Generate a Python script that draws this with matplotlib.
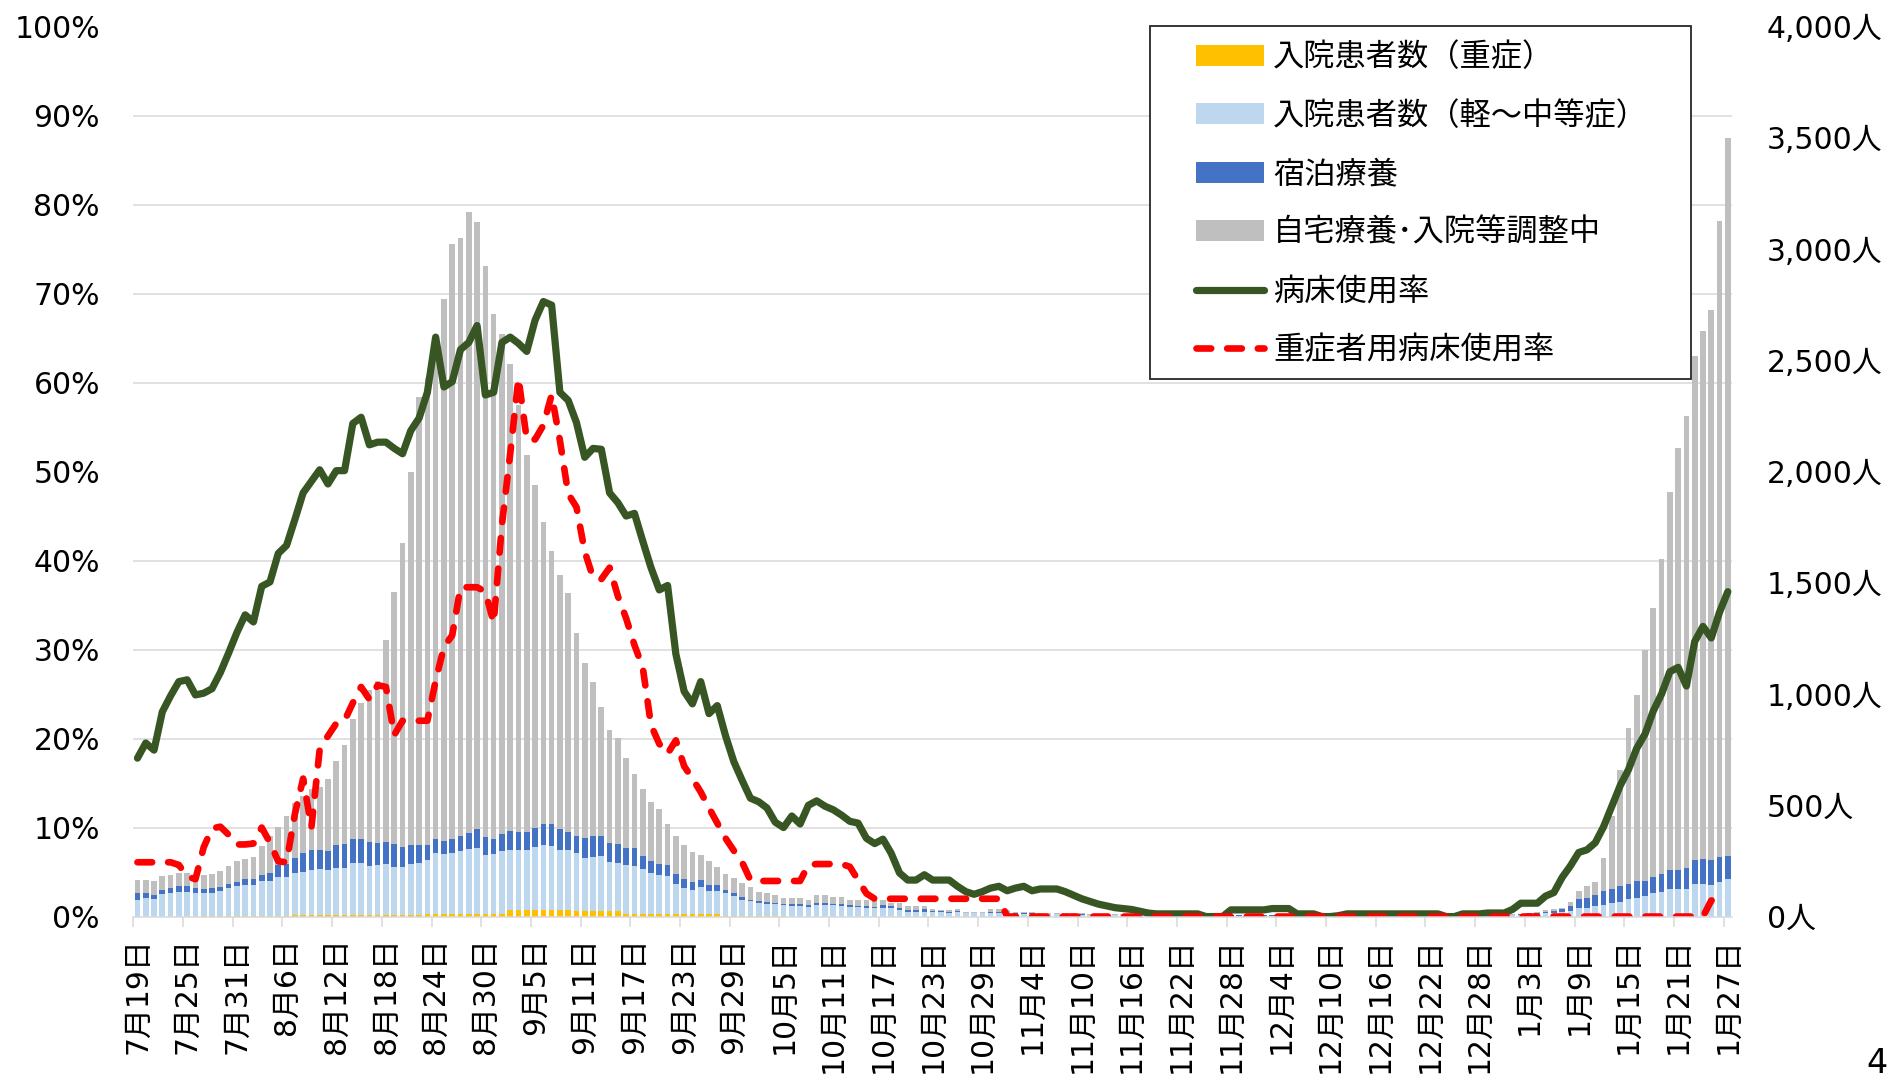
import matplotlib.pyplot as plt
import numpy as np
from matplotlib.lines import Line2D
from matplotlib.patches import Patch, Rectangle
from matplotlib.ticker import MultipleLocator

plt.rcParams['font.family'] = ['DejaVu Sans', 'Noto Sans CJK JP']

# labels under the axis, one every 6 days (7/19 .. 1/27, 193 days in all)
date_labels = ['7月19日', '7月25日', '7月31日', '8月6日', '8月12日', '8月18日', '8月24日', '8月30日',
               '9月5日', '9月11日', '9月17日', '9月23日', '9月29日', '10月5日', '10月11日', '10月17日',
               '10月23日', '10月29日', '11月4日', '11月10日', '11月16日', '11月22日', '11月28日', '12月4日',
               '12月10日', '12月16日', '12月22日', '12月28日', '1月3日', '1月9日', '1月15日', '1月21日',
               '1月27日']

series_names = ['入院患者数（重症）', '入院患者数（軽～中等症）', '宿泊療養', '自宅療養･入院等調整中',
                '病床使用率', '重症者用病床使用率']

# people per day (right axis)
severe = [0, 0, 0, 0, 0, 0, 0, 0, 3, 3,
          3, 3, 3, 3, 3, 3, 3, 3, 3, 7,
          7, 7, 7, 7, 7, 7, 7, 7, 7, 7,
          7, 7, 7, 7, 7, 12, 12, 12, 12, 12,
          12, 12, 12, 12, 12, 28, 28, 28, 28, 28,
          28, 28, 28, 24, 24, 24, 24, 24, 24, 12,
          12, 12, 12, 12, 12, 12, 12, 12, 12, 12,
          12, 4, 4, 4, 4, 4, 4, 4, 4, 0,
          0, 0, 0, 0, 0, 0, 0, 0, 0, 0,
          0, 0, 0, 0, 0, 0, 0, 0, 0, 0,
          0, 0, 0, 0, 0, 0, 0, 0, 0, 0,
          0, 0, 0, 0, 0, 0, 0, 0, 0, 0,
          0, 0, 0, 0, 0, 0, 0, 0, 0, 0,
          0, 0, 0, 0, 0, 0, 0, 0, 0, 0,
          0, 0, 0, 0, 0, 0, 0, 0, 0, 0,
          0, 0, 0, 0, 0, 0, 0, 0, 0, 0,
          0, 0, 0, 0, 0, 0, 0, 0, 0, 0,
          0, 0, 0, 0, 0, 0, 0, 0, 0, 0,
          0, 0, 0, 0, 0, 0, 0, 0, 0, 0,
          0, 0, 0]

mild = [76, 82, 78, 100, 104, 112, 112, 108, 105, 105,
        113, 125, 133, 141, 141, 157, 157, 173, 177, 189,
        193, 201, 205, 201, 209, 209, 233, 233, 221, 225,
        229, 217, 217, 229, 233, 244, 272, 268, 272, 284,
        292, 296, 264, 268, 284, 272, 272, 272, 284, 292,
        288, 272, 272, 260, 240, 242, 248, 222, 218, 220,
        216, 202, 186, 176, 170, 136, 116, 108, 120, 104,
        104, 100, 88, 72, 64, 56, 52, 52, 46, 48,
        48, 44, 52, 52, 52, 48, 44, 42, 40, 38,
        40, 38, 28, 22, 22, 22, 20, 20, 18, 20,
        16, 16, 14, 16, 16, 14, 12, 12, 12, 10,
        10, 10, 8, 8, 8, 7, 7, 6, 6, 6,
        5, 5, 5, 4, 4, 4, 4, 5, 4, 4,
        3, 3, 4, 4, 4, 4, 4, 4, 4, 3,
        3, 3, 3, 3, 3, 4, 4, 4, 3, 3,
        3, 3, 3, 3, 3, 3, 3, 3, 3, 3,
        3, 3, 4, 4, 5, 5, 6, 8, 10, 12,
        14, 16, 20, 26, 40, 40, 48, 52, 60, 64,
        80, 84, 92, 104, 112, 124, 124, 124, 148, 148,
        140, 156, 168]

hotel = [32, 26, 18, 20, 24, 24, 24, 20, 16, 20,
         16, 20, 20, 24, 24, 28, 36, 56, 56, 68,
         84, 92, 88, 88, 104, 108, 108, 108, 108, 100,
         100, 104, 88, 84, 80, 64, 64, 60, 64, 68,
         72, 84, 80, 68, 76, 84, 80, 80, 84, 96,
         100, 92, 80, 80, 90, 98, 92, 86, 82, 74,
         78, 60, 50, 50, 50, 44, 40, 36, 32, 24,
         24, 16, 12, 12, 8, 8, 8, 4, 6, 8,
         8, 8, 8, 8, 4, 8, 8, 6, 8, 6,
         12, 10, 10, 8, 8, 10, 6, 4, 4, 4,
         2, 2, 2, 4, 4, 4, 4, 4, 2, 2,
         2, 2, 2, 2, 2, 2, 1, 1, 1, 1,
         1, 1, 1, 1, 1, 1, 1, 1, 1, 1,
         1, 1, 1, 1, 1, 1, 1, 1, 1, 1,
         1, 1, 1, 1, 1, 1, 1, 1, 1, 1,
         1, 1, 1, 1, 1, 1, 1, 1, 1, 1,
         1, 1, 1, 1, 1, 1, 2, 2, 4, 4,
         6, 8, 14, 22, 40, 44, 48, 64, 64, 72,
         68, 76, 68, 72, 80, 84, 84, 96, 108, 112,
         116, 112, 104]

home = [56, 56, 64, 64, 60, 60, 60, 60, 64, 64,
        72, 80, 92, 92, 100, 128, 168, 172, 216, 248,
        260, 272, 284, 324, 380, 448, 540, 612, 680, 728,
        908, 1132, 1368, 1676, 2016, 2100, 2252, 2436, 2676, 2684,
        2792, 2728, 2568, 2360, 2244, 2100, 1920, 1696, 1544, 1356,
        1228, 1144, 1076, 912, 786, 692, 576, 508, 480, 406,
        334, 298, 268, 244, 186, 168, 152, 136, 112, 108,
        84, 72, 68, 64, 56, 44, 44, 36, 28, 28,
        28, 24, 36, 36, 32, 32, 24, 28, 28, 32,
        24, 12, 22, 18, 18, 16, 6, 6, 6, 8,
        4, 4, 4, 12, 12, 10, 6, 6, 8, 6,
        6, 6, 4, 4, 4, 4, 3, 3, 3, 3,
        2, 2, 2, 2, 2, 2, 2, 2, 2, 2,
        2, 2, 2, 2, 2, 2, 2, 2, 2, 2,
        2, 2, 2, 2, 2, 2, 2, 2, 2, 2,
        2, 2, 2, 2, 2, 2, 2, 2, 2, 2,
        2, 2, 2, 2, 2, 2, 2, 2, 4, 6,
        8, 10, 6, 16, 36, 52, 60, 148, 328, 524,
        700, 836, 1040, 1212, 1416, 1700, 1896, 2028, 2264, 2372,
        2468, 2860, 3228]

# percentages (left axis)
bed_rate = [17.8, 19.5, 18.7, 23.0, 24.8, 26.4, 26.6, 24.9, 25.1, 25.6,
            27.4, 29.6, 31.9, 33.9, 33.1, 37.1, 37.6, 40.8, 41.7, 44.6,
            47.6, 48.9, 50.2, 48.6, 50.1, 50.1, 55.4, 56.1, 53.0, 53.3,
            53.3, 52.6, 52.0, 54.6, 56.0, 58.9, 65.1, 59.5, 60.1, 63.7,
            64.5, 66.4, 58.6, 58.9, 64.5, 65.1, 64.4, 63.5, 67.0, 69.1,
            68.7, 58.9, 58.0, 55.5, 51.6, 52.6, 52.5, 47.6, 46.5, 45.0,
            45.3, 42.2, 39.2, 36.7, 37.2, 29.5, 25.3, 23.9, 26.4, 22.8,
            23.7, 20.3, 17.4, 15.3, 13.3, 12.9, 12.2, 10.6, 10.0, 11.3,
            10.4, 12.5, 13.0, 12.4, 12.0, 11.4, 10.7, 10.5, 8.8, 8.2,
            8.7, 7.1, 4.9, 4.1, 4.1, 4.7, 4.1, 4.1, 4.1, 3.4,
            2.8, 2.5, 2.8, 3.2, 3.4, 2.9, 3.2, 3.4, 2.9, 3.1,
            3.1, 3.1, 2.8, 2.4, 2.0, 1.7, 1.4, 1.2, 1.0, 0.9,
            0.8, 0.6, 0.4, 0.3, 0.3, 0.3, 0.3, 0.3, 0.3, 0.0,
            0.0, 0.0, 0.75, 0.75, 0.75, 0.75, 0.75, 0.9, 0.9, 0.9,
            0.3, 0.3, 0.3, 0.0, 0.0, 0.1, 0.3, 0.3, 0.3, 0.3,
            0.3, 0.3, 0.3, 0.3, 0.3, 0.3, 0.3, 0.3, 0.0, 0.0,
            0.3, 0.3, 0.3, 0.4, 0.4, 0.4, 0.8, 1.5, 1.5, 1.5,
            2.3, 2.7, 4.4, 5.7, 7.2, 7.5, 8.3, 10.1, 12.4, 14.7,
            16.5, 18.9, 20.5, 23.1, 25.0, 27.5, 28.0, 25.9, 30.9, 32.6,
            31.3, 34.2, 36.5]

severe_bed_rate = [6.1, 6.1, 6.1, 6.1, 6.1, 5.8, 4.5, 4.2, 7.8, 9.9,
                   10.1, 9.2, 8.1, 8.1, 8.2, 10.0, 8.3, 6.2, 6.1, 11.5,
                   15.5, 10.0, 18.8, 20.3, 21.7, 22.0, 24.0, 25.8, 24.4, 26.0,
                   25.8, 20.4, 22.0, 22.0, 22.0, 22.0, 26.5, 30.3, 31.6, 37.0,
                   37.0, 37.0, 36.5, 33.0, 44.0, 52.0, 60.5, 53.6, 53.6, 55.2,
                   58.6, 53.5, 47.5, 46.0, 41.0, 38.1, 37.9, 39.2, 36.0, 33.5,
                   30.5, 28.0, 21.5, 19.4, 18.3, 19.8, 16.9, 15.5, 14.0, 12.2,
                   10.5, 8.8, 7.4, 6.1, 4.1, 4.0, 4.0, 4.0, 4.0, 4.0,
                   4.0, 5.8, 5.9, 5.9, 5.9, 5.9, 5.6, 4.1, 2.6, 2.0,
                   2.0, 2.0, 2.0, 2.0, 2.0, 2.0, 2.0, 2.0, 2.0, 2.0,
                   2.0, 2.0, 2.0, 2.0, 2.0, 0, 0, 0, 0, 0,
                   0, 0, 0, 0, 0, 0, 0, 0, 0, 0,
                   0, 0, 0, 0, 0, 0, 0, 0, 0, 0,
                   0, 0, 0, 0, 0, 0, 0, 0, 0, 0,
                   0, 0, 0, 0, 0, 0, 0, 0, 0, 0,
                   0, 0, 0, 0, 0, 0, 0, 0, 0, 0,
                   0, 0, 0, 0, 0, 0, 0, 0, 0, 0,
                   0, 0, 0, 0, 0, 0, 0, 0, 0, 0,
                   0, 0, 0, 0, 0, 0, 0, 0, 0, 0,
                   1.8, 2.1, np.nan]

col_severe = '#FFC000'
col_mild = '#BDD7EE'
col_hotel = '#4472C4'
col_home = '#BFBFBF'
col_bed = '#375623'
col_sev_bed = '#FF0000'
grid_col = '#D9D9D9'
red_dash = (2.2, 2.4)

days = np.arange(len(home))

fig = plt.figure(figsize=(18.91, 10.82), dpi=100)
ax = fig.add_axes([0.0705, 0.1529, 0.8454, 0.8226])
ax_bar = ax.twinx()
# lines must sit above the bars
ax.set_zorder(ax_bar.get_zorder() + 1)
ax.patch.set_visible(False)

# stacked bars (people)
bw = 0.68
b1 = np.array(severe)
b2 = b1 + np.array(mild)
b3 = b2 + np.array(hotel)
ax_bar.bar(days, severe, bw, color=col_severe, linewidth=0)
ax_bar.bar(days, mild, bw, bottom=b1, color=col_mild, linewidth=0)
ax_bar.bar(days, hotel, bw, bottom=b2, color=col_hotel, linewidth=0)
ax_bar.bar(days, home, bw, bottom=b3, color=col_home, linewidth=0)

ax_bar.set_ylim(0, 4000)
ax_bar.set_yticks(range(0, 4001, 500))
ax_bar.set_yticklabels([f'{v:,}人' for v in range(0, 4001, 500)], fontsize=21.5)
ax_bar.yaxis.set_minor_locator(MultipleLocator(400))
ax_bar.tick_params(axis='y', which='both', length=0, pad=25)
ax_bar.grid(axis='y', which='minor', color=grid_col, linewidth=1.1)
ax_bar.set_axisbelow(True)

# rate lines (percent)
ax.plot(days, bed_rate, color=col_bed, linewidth=5.2, solid_joinstyle='round', solid_capstyle='round')
ax.plot(days, severe_bed_rate, color=col_sev_bed, linewidth=4.8, dashes=red_dash,
        dash_capstyle='round', dash_joinstyle='round')

ax.set_ylim(0, 100)
ax.set_yticks(range(0, 101, 10))
ax.set_yticklabels([f'{v}%' for v in range(0, 101, 10)], fontsize=21.5)
ax.tick_params(axis='y', length=0, pad=24)

ax.set_xlim(-0.5, len(days) - 0.5)
ax.set_xticks(days[::6])
ax.set_xticklabels(date_labels, rotation=90, fontsize=21.5)
ax.set_xticks(np.arange(-0.5, len(days) - 1, 6), minor=True)
ax.tick_params(axis='x', which='major', length=0, pad=15)
ax.tick_params(axis='x', which='minor', length=7, width=1.1, color=grid_col)

for a in (ax, ax_bar):
    for side in ('top', 'left', 'right', 'bottom'):
        a.spines[side].set_visible(False)
ax.spines['bottom'].set_visible(True)
ax.spines['bottom'].set_color(grid_col)
ax.spines['bottom'].set_linewidth(1.1)

# legend box
frame = Rectangle((1150 / 1891, 1 - 379 / 1082), 541 / 1891, 352.6 / 1082, transform=fig.transFigure,
                  facecolor='white', edgecolor='#262626', linewidth=1.3, zorder=3)
fig.add_artist(frame)

handles = [Patch(facecolor=col_severe, edgecolor='none'),
           Patch(facecolor=col_mild, edgecolor='none'),
           Patch(facecolor=col_hotel, edgecolor='none'),
           Patch(facecolor=col_home, edgecolor='none'),
           Line2D([], [], color=col_bed, linewidth=5.2, solid_capstyle='round'),
           Line2D([], [], color=col_sev_bed, linewidth=4.8, dashes=red_dash, dash_capstyle='round')]
fig.legend(handles, series_names, loc='upper left', bbox_to_anchor=(1180 / 1891, 1 - 25.5 / 1082),
           frameon=False, borderpad=0, prop={'family': 'Noto Sans CJK JP', 'size': 22.5},
           handlelength=2.2, handleheight=0.66, handletextpad=0.28, labelspacing=0.85)

# page number in the bottom right corner
fig.text(1866 / 1891, 2 / 1082, '4', fontsize=24, va='bottom', ha='left')

fig.savefig('out.png', dpi=100)
